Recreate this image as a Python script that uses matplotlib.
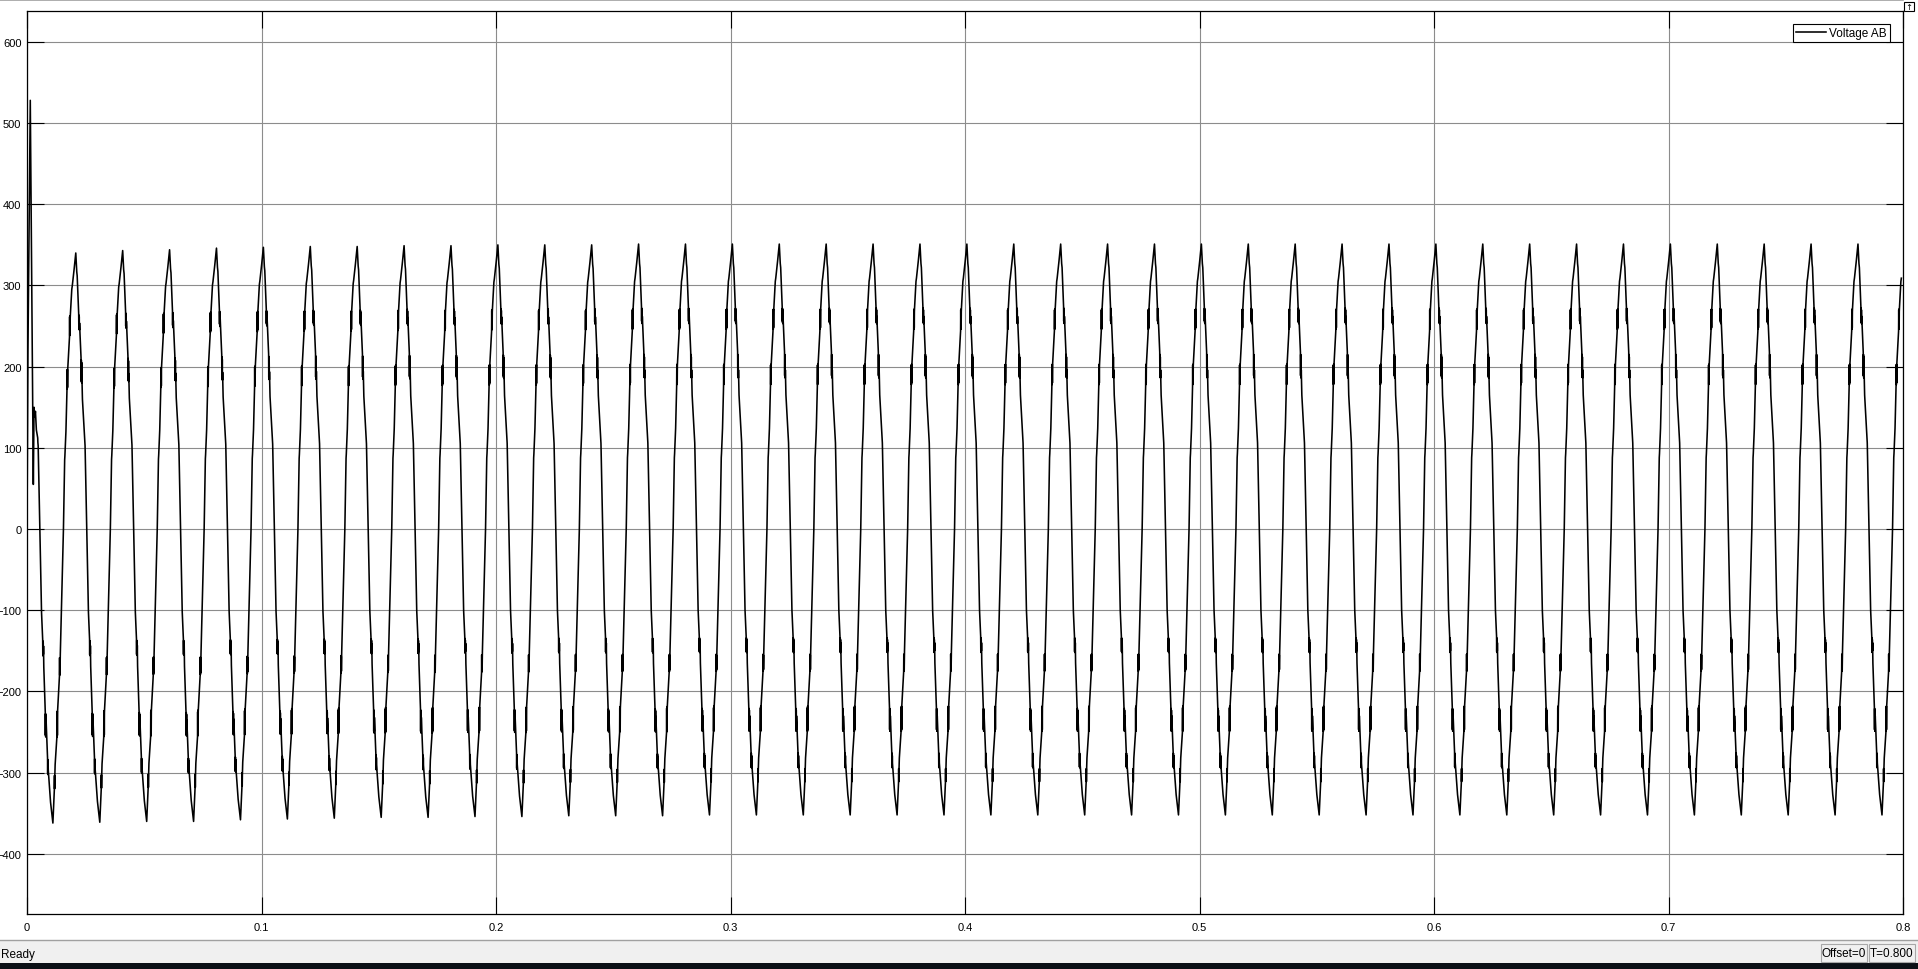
"""
Scope view of line voltage AB - 50 Hz multilevel inverter output, 0..0.8 s
"""

import matplotlib
matplotlib.use("Agg")
import matplotlib.pyplot as plt
import numpy as np
from matplotlib.patches import Rectangle
from matplotlib.lines import Line2D

plt.rcParams['font.family'] = ['Liberation Sans', 'DejaVu Sans']

# one cycle, phase 0 = positive peak
cycle_phase = [0.000, 0.021, 0.030, 0.056,
               0.062, 0.065, 0.068, 0.071, 0.074, 0.077, 0.080,
               0.108,
               0.112, 0.115, 0.118, 0.121, 0.124, 0.127, 0.130,
               0.142, 0.188, 0.192, 0.198, 0.235, 0.270,
               0.294, 0.297, 0.300, 0.303, 0.306, 0.309, 0.312,
               0.318,
               0.350, 0.353, 0.356, 0.359, 0.362, 0.365, 0.368,
               0.398, 0.401, 0.404, 0.407, 0.410, 0.413,
               0.462, 0.512,
               0.543, 0.546, 0.549, 0.552,
               0.560,
               0.596, 0.599, 0.602, 0.605, 0.608, 0.611, 0.614,
               0.652, 0.655, 0.658, 0.661, 0.664, 0.667, 0.670,
               0.737, 0.763, 0.768, 0.790,
               0.812, 0.815, 0.818, 0.821, 0.824, 0.827, 0.830,
               0.866, 0.869, 0.872, 0.875, 0.878, 0.881, 0.884,
               0.915, 0.925, 0.964]
cycle_volts = [351, 327, 322, 284,
               274, 256, 272, 254, 270, 253, 262,
               222,
               218, 189, 215, 187, 212, 186, 196,
               165, 116, 110, 106, 0, -100,
               -132, -151, -134, -152, -136, -150, -140,
               -165,
               -220, -247, -221, -249, -223, -247, -230,
               -274, -293, -276, -294, -279, -288,
               -327, -352,
               -312, -295, -311, -298,
               -282,
               -250, -220, -249, -218, -247, -220, -216,
               -176, -154, -175, -155, -173, -156, -150,
               0, 88, 93, 124,
               176, 202, 178, 203, 180, 201, 205,
               244, 270, 246, 271, 248, 268, 272,
               305, 309, 330]

# positive peak of each cycle (peak k sits at t = 0.02*k)
pos_peaks = [340, 340, 343, 344, 346, 347, 348, 348, 349, 349,
             350, 350, 350, 351, 351, 351, 351, 351, 351, 351,
             351, 351, 351, 351, 351, 351, 351, 351, 351, 351,
             351, 351, 351, 351, 351, 351, 351, 351, 351, 351,
             351, 351]
# negative trough following peak k
neg_peaks = [-362, -361, -360, -360, -358, -357, -356, -355, -355, -354,
             -354, -353, -353, -353, -352, -352, -352, -352, -352, -352,
             -352, -352, -352, -352, -352, -352, -352, -352, -352, -352,
             -352, -352, -352, -352, -352, -352, -352, -352, -352, -352,
             -352, -352]

# switch-on transient
startup_t = [0.0, 0.0004, 0.0014, 0.0027, 0.0030, 0.0033, 0.0036, 0.0040]
startup_v = [0, 220, 528, 55, 150, 138, 145, 122]

period = 0.02
peak_lag = 0.0008
t_end = 0.8

x_ticks = [0, 0.1, 0.2, 0.3, 0.4, 0.5, 0.6, 0.7, 0.8]
x_labels = ['0', '0.1', '0.2', '0.3', '0.4', '0.5', '0.6', '0.7', '0.8']
y_ticks = [-400, -300, -200, -100, 0, 100, 200, 300, 400, 500, 600]

# tile the read cycle along the time axis
phase = np.array(cycle_phase)
volts = np.array(cycle_volts, dtype=float)
ts, vs = [], []
for k in range(len(pos_peaks) - 1):
    v = volts.copy()
    pos_now = (v > 0) & (phase < 0.5)
    pos_next = (v > 0) & (phase >= 0.5)
    v[pos_now] *= pos_peaks[k] / 351.0
    v[pos_next] *= pos_peaks[k + 1] / 351.0
    v[v < 0] *= -neg_peaks[k] / 352.0
    ts.append((k + phase) * period + peak_lag)
    vs.append(v)
t = np.concatenate(ts)
v = np.concatenate(vs)
keep = (t > startup_t[-1]) & (t <= t_end)
t = np.concatenate([startup_t, t[keep]])
v = np.concatenate([startup_v, v[keep]])

W, H = 1918, 970
fig = plt.figure(figsize=(W / 100, H / 100), dpi=100)
fig.patch.set_facecolor('white')

ax = fig.add_axes([27 / W, 55 / H, 1876 / W, 903 / H])
ax.plot(t, v, color='black', lw=1.15, label='Voltage AB')

ax.set_xlim(0, 0.8)
ax.set_ylim(-474, 638)
ax.set_xticks(x_ticks)
ax.set_xticklabels(x_labels)
ax.set_yticks(y_ticks)
ax.grid(True, color='#8c8c8c', lw=0.8)
ax.set_axisbelow(True)
ax.tick_params(direction='in', length=12.5, width=0.8, top=True, right=True,
               labelsize=8, colors='black')
ax.tick_params(axis='x', pad=6)
ax.tick_params(axis='y', pad=4)
for s in ax.spines.values():
    s.set_linewidth(0.9)
    s.set_color('black')

leg = ax.legend(loc='upper right', bbox_to_anchor=(1890 / W, 1 - 25 / H),
                bbox_transform=fig.transFigure, fontsize=8.5, fancybox=False,
                framealpha=1, edgecolor='black', borderpad=0.25,
                handlelength=2.5, handletextpad=0.3, borderaxespad=0)
leg.get_frame().set_linewidth(0.8)

# window chrome: top rule, corner button, status bar
fig.add_artist(Line2D([0, 1903 / W], [1 - 1 / H, 1 - 1 / H],
                      transform=fig.transFigure, color='#a0a0a0', lw=1.2))
fig.add_artist(Rectangle((1904 / W, 1 - 12 / H), 10 / W, 9 / H,
                         transform=fig.transFigure, facecolor='white',
                         edgecolor='black', lw=0.8))
fig.text(1909 / W, 1 - 8 / H, '↑', fontsize=6, ha='center', va='center',
         family=['DejaVu Sans'])

fig.add_artist(Rectangle((0, 6 / H), 1, 22 / H, transform=fig.transFigure,
                         facecolor='#f0f0f0', edgecolor='none'))
fig.add_artist(Line2D([0, 1], [1 - 941 / H, 1 - 941 / H],
                      transform=fig.transFigure, color='#a0a0a0', lw=1.0))
fig.add_artist(Rectangle((0, 0), 1, 6 / H, transform=fig.transFigure,
                         facecolor='#0b1016', edgecolor='none'))
fig.text(1 / W, 1 - 955 / H, 'Ready', fontsize=8.5, ha='left', va='center')

for x0, x1, label in [(1821, 1867, 'Offset=0'), (1869, 1915, 'T=0.800')]:
    fig.add_artist(Rectangle((x0 / W, 1 - 963 / H), (x1 - x0) / W, 18 / H,
                             transform=fig.transFigure, facecolor='none',
                             edgecolor='#a8a8a8', lw=0.8))
    fig.text((x0 + x1) / 2 / W, 1 - 954.5 / H, label, fontsize=8.5,
             ha='center', va='center')

fig.savefig('out.png', dpi=100)
